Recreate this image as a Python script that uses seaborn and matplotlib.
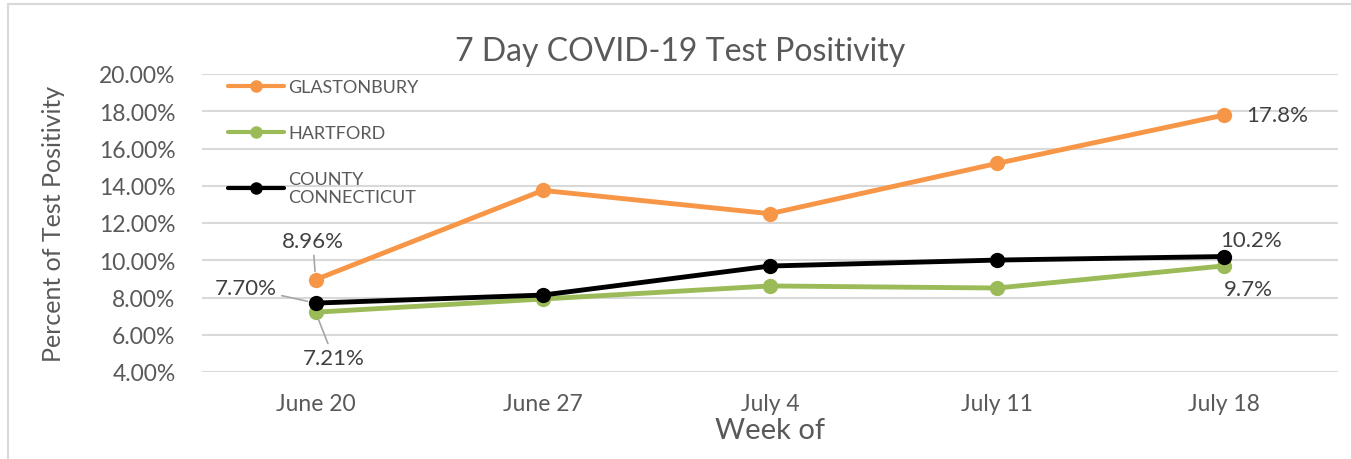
import numpy as np
import pandas as pd
import seaborn as sns
import matplotlib.pyplot as plt
from matplotlib.patches import Rectangle

# data
weeks = ["June 20", "June 27", "July 4", "July 11", "July 18"]
glastonbury = [8.96, 13.75, 12.5, 15.2, 17.8]
hartford = [7.21, 7.92, 8.62, 8.51, 9.7]
connecticut = [7.70, 8.13, 9.69, 10.01, 10.2]

series_names = ["GLASTONBURY", "HARTFORD COUNTY", "CONNECTICUT"]
legend_labels = ["GLASTONBURY", "HARTFORD", "COUNTY\nCONNECTICUT"]
colors = ["#f79646", "#9bbb59", "#000000"]

df = pd.DataFrame({
    "Week": weeks * 3,
    "Positivity": glastonbury + hartford + connecticut,
    "Area": np.repeat(series_names, len(weeks)),
})

sns.set_style("white")
plt.rcParams['font.family'] = ['Lato', 'DejaVu Sans']
gray = "#595959"
dark = "#404040"

fig = plt.figure(figsize=(13.51, 4.60), dpi=100)
ax = fig.add_axes([202 / 1351, 1 - 373 / 460, 1136 / 1351, 298 / 460])

# outer chart border
fig.patches.append(Rectangle((8 / 1351, -0.2), 1.2, 1 - 5 / 460 + 0.2,
                             transform=fig.transFigure, fill=False,
                             edgecolor="#d9d9d9", linewidth=1.5))

sns.lineplot(data=df, x="Week", y="Positivity", hue="Area", palette=colors,
             marker="o", markersize=11, markeredgewidth=0, linewidth=3.5,
             ax=ax, zorder=3)

ax.set_ylim(4, 20)
ax.set_xlim(-0.5, 4.5)
ax.set_yticks(np.arange(4, 21, 2))
ax.set_yticklabels([f"{v:.2f}%" for v in np.arange(4, 21, 2)])
ax.grid(axis="y", color="#d9d9d9", linewidth=1.5)
ax.grid(axis="x", visible=False)
for s in ax.spines.values():
    s.set_visible(False)
ax.tick_params(axis="both", length=0, labelsize=16.5, colors=gray)
ax.tick_params(axis="y", pad=19)
ax.tick_params(axis="x", pad=15)

ax.set_xlabel("Week of", fontsize=21, color=gray, labelpad=2)
ax.set_ylabel("Percent of Test Positivity", fontsize=18, color=gray)
ax.yaxis.set_label_coords(-0.121, 0.5)
fig.text(680 / 1351, 1 - 52 / 460, "7 Day COVID-19 Test Positivity",
         ha="center", va="center", fontsize=23, color=gray)

# legend
handles, _ = ax.get_legend_handles_labels()
for h in handles:
    h.set_linewidth(3)
    h.set_markersize(9)
leg = ax.legend(handles, legend_labels, loc="upper left",
                bbox_to_anchor=(0.009, 1.037), frameon=False, fontsize=13,
                handlelength=3.1, handletextpad=0.2, labelspacing=1.65,
                labelcolor=gray)

# data labels
line_kw = dict(arrowstyle="-", color="#a6a6a6", lw=1.2, shrinkA=1, shrinkB=6)
lab_kw = dict(textcoords="offset points", ha="center", va="center",
              fontsize=16, color=dark)
ax.annotate("8.96%", (0, glastonbury[0]), xytext=(-2, 28), arrowprops=line_kw, **lab_kw)
ax.annotate("7.70%", (0, connecticut[0]), xytext=(-50, 11), arrowprops=line_kw, **lab_kw)
ax.annotate("7.21%", (0, hartford[0]), xytext=(13, -33), arrowprops=line_kw, **lab_kw)
ax.annotate("17.8%", (4, glastonbury[4]), xytext=(38, 0), **lab_kw)
ax.annotate("10.2%", (4, connecticut[4]), xytext=(19, 12), **lab_kw)
ax.annotate("9.7%", (4, hartford[4]), xytext=(17, -17), **lab_kw)

fig.savefig("out.png", dpi=100)
